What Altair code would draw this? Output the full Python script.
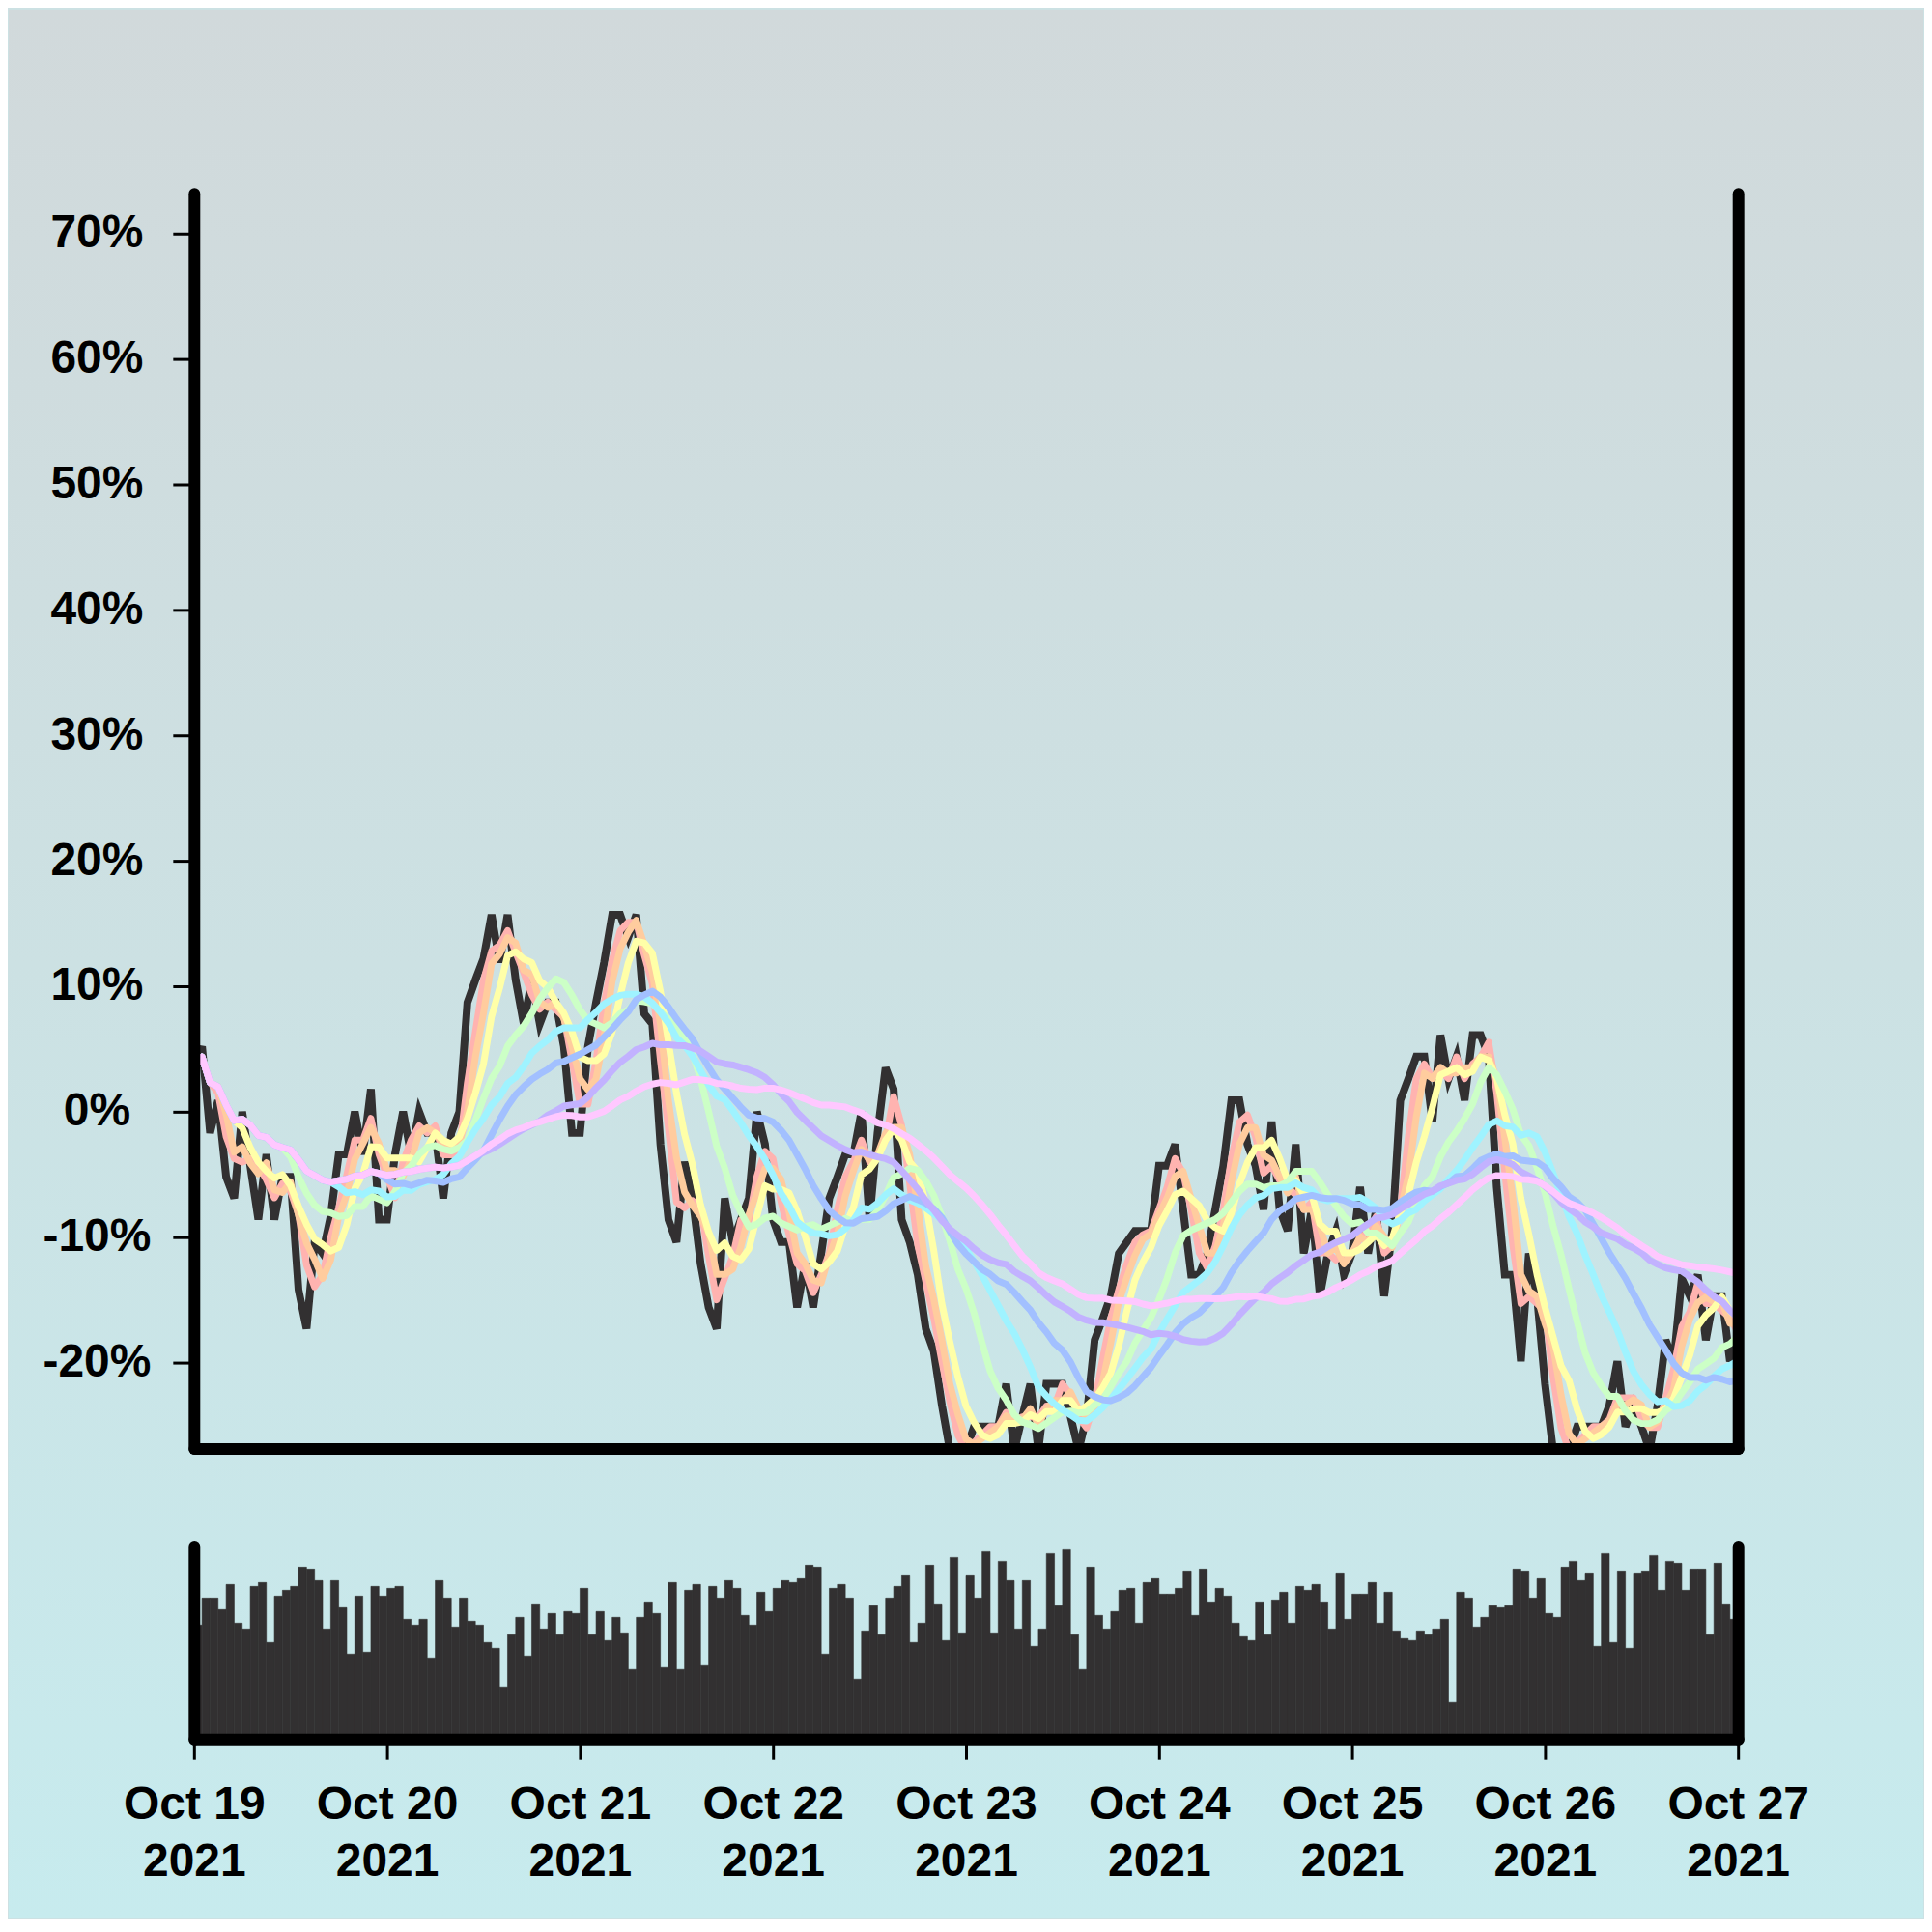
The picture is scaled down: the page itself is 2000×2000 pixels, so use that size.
import altair as alt
import pandas as pd

# ---- data (hourly, Oct 19 00:00 -> Oct 27 00:00) ----
price_pct = [
    3.5, 5.2, -1.7, 0.9, -5.2, -6.9, 0.0, -4.3, -8.6, -3.4,
    -8.6, -5.2, -5.2, -14.2, -17.3, -10.4, -11.3, -8.3, -3.4, -3.4,
    0.0, -3.4, 1.8, -8.6, -8.6, -3.4, 0.0, -3.4, 0.0, -1.7,
    -1.7, -6.9, -1.7, 0.0, 8.7, 10.5, 12.2, 15.7, 11.9, 15.7,
    10.5, 7.0, 10.5, 7.0, 8.7, 8.7, 5.2, -1.7, -1.7, 5.2,
    8.7, 11.9, 15.7, 15.7, 13.9, 15.7, 7.8, 7.0, -2.6, -8.6,
    -10.4, -4.0, -6.9, -12.1, -15.6, -17.3, -6.9, -10.4, -8.6, -6.9,
    0.0, -2.6, -8.6, -10.4, -10.4, -15.6, -12.1, -15.6, -11.3, -6.9,
    -5.2, -3.4, -3.4, 0.0, -8.6, -1.7, 3.5, 1.8, -8.6, -10.4,
    -13.0, -17.3, -19.1, -23.4, -27.0, -27.0, -27.0, -25.1, -25.1, -25.1,
    -25.1, -21.7, -27.0, -24.3, -21.7, -27.0, -21.7, -21.7, -21.7, -24.3,
    -27.0, -24.3, -18.2, -16.5, -14.7, -11.3, -10.4, -9.5, -9.5, -9.5,
    -4.3, -4.3, -2.6, -7.8, -13.0, -13.0, -11.3, -7.8, -4.3, 0.9,
    0.9, -2.6, -4.3, -7.8, -0.8, -7.8, -9.5, -2.6, -11.3, -7.8,
    -14.7, -11.3, -9.5, -13.0, -11.3, -6.0, -11.3, -7.8, -14.7, -9.5,
    0.9, 2.6, 4.4, 4.4, -0.8, 6.1, 2.6, 4.4, 0.9, 6.1,
    6.1, 4.4, -6.0, -13.0, -13.0, -19.9, -11.3, -14.7, -21.7, -27.0,
    -27.0, -27.0, -25.1, -25.1, -25.1, -25.1, -23.4, -19.9, -25.1, -23.4,
    -25.1, -27.0, -23.4, -18.2, -19.9, -13.3, -14.7, -13.0, -18.2, -14.7,
    -14.7, -19.9, -18.2,
]

volume = [
    59, 73, 73, 67, 80, 60, 57, 79, 81, 50,
    74, 77, 79, 89, 88, 82, 57, 82, 68, 44,
    74, 45, 79, 74, 78, 79, 62, 59, 62, 42,
    82, 73, 58, 73, 61, 59, 50, 47, 27, 54,
    63, 43, 70, 57, 65, 54, 66, 65, 78, 54,
    66, 51, 63, 55, 36, 63, 71, 65, 37, 81,
    36, 77, 80, 38, 79, 73, 82, 78, 64, 59,
    76, 66, 78, 82, 81, 83, 90, 89, 44, 78,
    80, 73, 31, 56, 69, 54, 73, 79, 85, 50,
    60, 90, 70, 51, 94, 55, 85, 73, 97, 55,
    92, 82, 57, 82, 48, 57, 96, 69, 98, 54,
    36, 89, 64, 57, 66, 77, 78, 60, 81, 83,
    75, 75, 78, 87, 64, 88, 71, 78, 74, 60,
    53, 51, 71, 54, 72, 76, 60, 79, 77, 80,
    71, 57, 86, 62, 75, 75, 81, 60, 76, 56,
    52, 51, 56, 54, 57, 62, 19, 76, 73, 58,
    63, 69, 68, 69, 88, 87, 73, 83, 65, 63,
    89, 92, 82, 86, 48, 96, 50, 87, 47, 86,
    87, 95, 77, 92, 91, 77, 88, 88, 54, 91,
    70, 62,
]

ma_windows = [3, 4, 6, 12, 18, 24, 36, 48]
ma_colors = ["#FFB3B0", "#FFCC9E", "#FFFFA8", "#CCFFC6",
             "#9FF3FF", "#A2C0FF", "#C2B2FF", "#FFC8FF"]
y_tick_values = [-0.2, -0.1, 0.0, 0.1, 0.2, 0.3, 0.4, 0.5, 0.6, 0.7]
day_ticks = list(range(19, 28))
start = "2021-10-19 00:00"

hours = pd.date_range(start, periods=len(price_pct), freq="h")
price_df = pd.DataFrame({"time": hours, "t": list(range(len(price_pct))), "pct": price_pct})
vol_df = pd.DataFrame({"time": hours[:len(volume)], "end": hours[1:len(volume) + 1], "vol": volume})
bg_df = pd.DataFrame({"bg": [0]})

FONT = "Liberation Sans"
AX = dict(domainColor="black", domainWidth=12, domainCap="round", tickColor="black",
          tickWidth=3, labelFont=FONT, labelFontWeight="bold", labelFontSize=48,
          labelColor="black", grid=False, zindex=2, title=None)

x_scale = alt.Scale(domain=[alt.DateTime(year=2021, month=10, date=19),
                            alt.DateTime(year=2021, month=10, date=27)])
y_scale = alt.Scale(domain=[-0.2685, 0.7315], nice=False, zero=False)
v_scale = alt.Scale(domain=[0, 100], nice=False, zero=True)

x_axis_main = alt.Axis(labels=False, ticks=False, domain=True, **AX)
y_axis_left = alt.Axis(values=y_tick_values, labelExpr="round(datum.value*100) + '%'",
                       tickSize=22, labelPadding=79, labelAlign="center", orient="left",
                       minExtent=192, maxExtent=192, **AX)
y_axis_right = alt.Axis(orient="right", labels=False, ticks=False, domain=True, **AX)

x_axis_vol = alt.Axis(values=[alt.DateTime(year=2021, month=10, date=d) for d in day_ticks],
                      labelExpr="[timeFormat(datum.value, '%b %d'), timeFormat(datum.value, '%Y')]",
                      tickSize=21, labelPadding=23, labelBaseline="top", labelLineHeight=59,
                      labelFlush=False, labelAlign="center", labelOverlap=False, **AX)
v_axis_left = alt.Axis(labels=False, ticks=False, domain=True,
                       orient="left", minExtent=192, maxExtent=192, **AX)
v_axis_right = alt.Axis(labels=False, ticks=False, domain=True, orient="right", **AX)

gradient = alt.LinearGradient(
    gradient="linear",
    stops=[alt.GradientStop(offset=0, color="#D1D9DB"),
           alt.GradientStop(offset=0.5, color="#CCE1E3"),
           alt.GradientStop(offset=1, color="#C7EBEE")],
    x1=0, x2=0, y1=0, y2=1,
)

# page background panel (fits the 2000px window together with the 8px page margin)
bg = alt.Chart(bg_df).mark_rect(fill=gradient, strokeWidth=0).encode(
    x=alt.value(-192), x2=alt.value(1792), y=alt.value(-191), y2=alt.value(1786)
)

x_main = alt.X("time:T", scale=x_scale, axis=x_axis_main)
base = alt.Chart(price_df).transform_calculate(p="datum.pct / 100")

price_line = base.mark_line(color="#323031", strokeWidth=8, clip=True).encode(
    x=x_main, y=alt.Y("p:Q", scale=y_scale, axis=y_axis_left)
)

ma_layers = []
for w, c in zip(ma_windows, ma_colors):
    ma_layers.append(
        base.transform_window(ma="mean(p)", frame=[-(w - 1), 0], sort=[alt.SortField("t")])
        .mark_line(color=c, strokeWidth=7, clip=True, strokeJoin="round", strokeCap="round")
        .encode(x=x_main, y=alt.Y("ma:Q", scale=y_scale, axis=y_axis_left))
    )

inner = alt.layer(bg, price_line, *ma_layers)
right_main = base.mark_line(opacity=0).encode(
    x=x_main, y=alt.Y("p:Q", scale=y_scale, axis=y_axis_right)
)
main = alt.layer(inner, right_main).resolve_axis(y="independent").properties(width=1600, height=1300)

vx = alt.X("time:T", scale=x_scale, axis=x_axis_vol)
bars = alt.Chart(vol_df).mark_rect(color="#323031", stroke="#323031", strokeWidth=0.6).encode(
    x=vx, x2="end:T", y=alt.Y("vol:Q", scale=v_scale, axis=v_axis_left), y2=alt.datum(0)
)
bars_right = alt.Chart(vol_df).mark_rect(opacity=0).encode(
    x=vx, x2="end:T", y=alt.Y("vol:Q", scale=v_scale, axis=v_axis_right), y2=alt.datum(0)
)
vol = alt.layer(bars, bars_right).resolve_axis(y="independent").properties(width=1600, height=200)

chart = (
    alt.vconcat(main, vol, spacing=101, bounds="flush")
    .properties(padding=0, background="#CCE1E3")
    .configure_view(stroke="transparent")
)

chart.save("out.html", embed_options={"renderer": "svg", "actions": False})
